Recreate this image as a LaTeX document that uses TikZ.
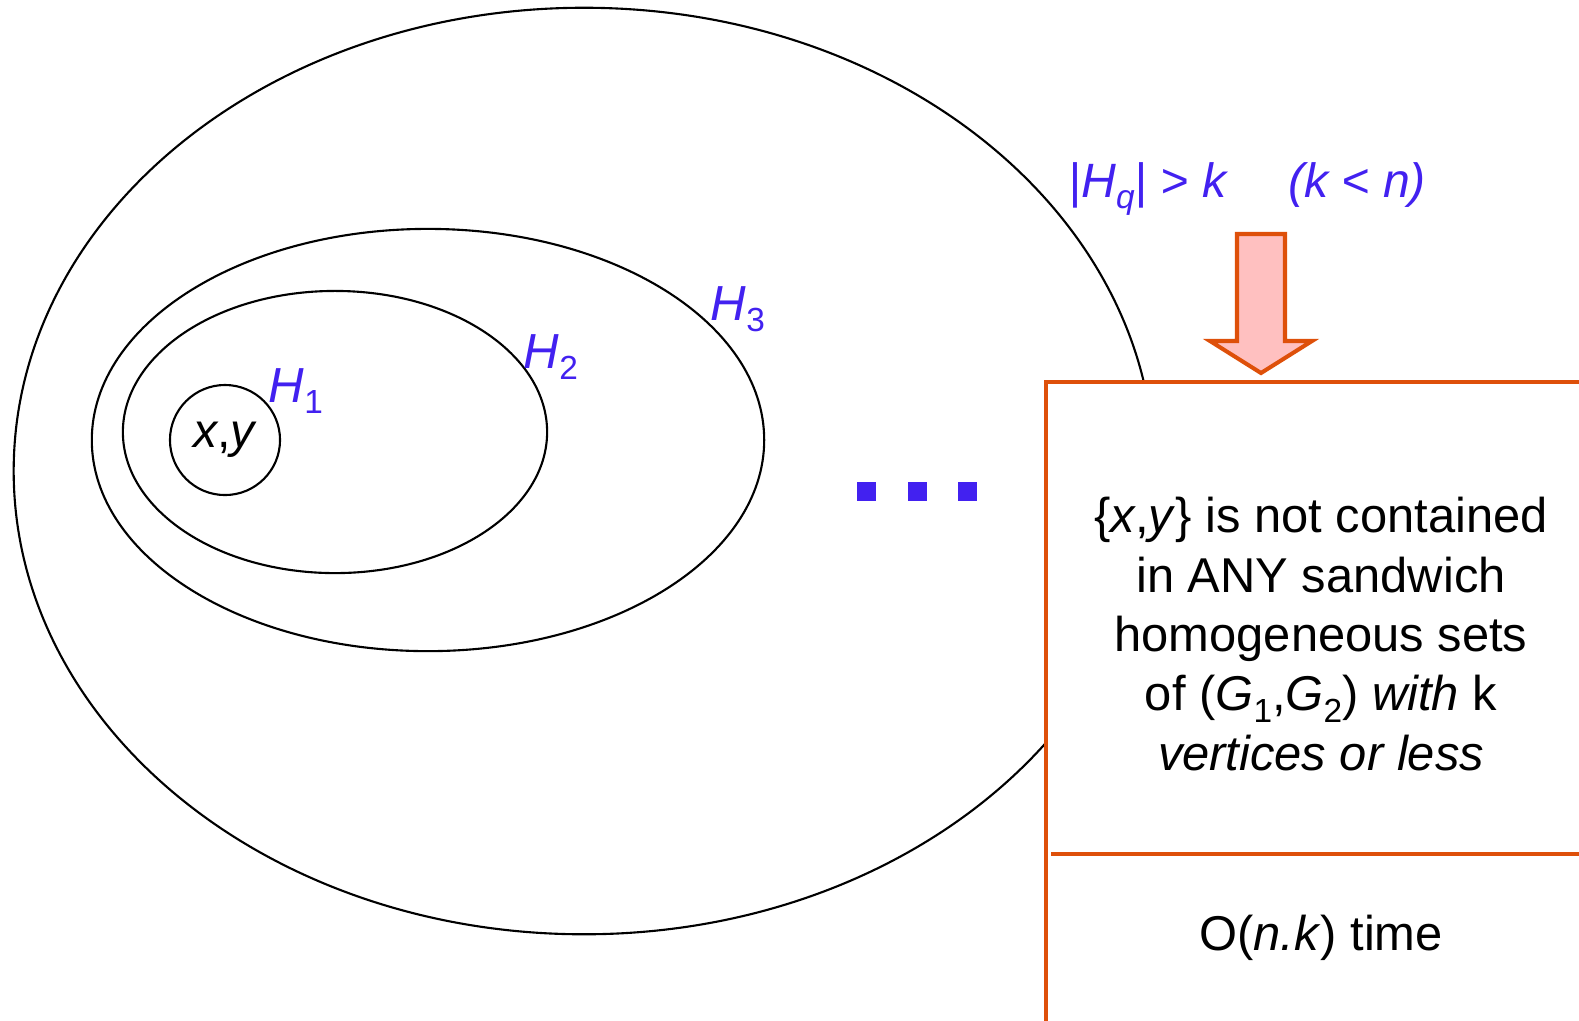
\documentclass[tikz,border=0pt]{standalone}
\usepackage{fontspec}
\setmainfont{Liberation Sans}
\usetikzlibrary{positioning, shapes.geometric}
\definecolor{setblue}{RGB}{66,33,240}
\definecolor{boxorange}{RGB}{222,80,10}
\definecolor{arrowpink}{RGB}{255,192,192}
\newcommand{\lowsub}[1]{\raisebox{-0.45ex}{\fontsize{9.5}{10}\selectfont\upshape #1}}

\begin{document}
\begin{tikzpicture}[
    x=0.01cm, y=-0.01cm, % pixel-like units, y downwards
    set/.style={draw, ellipse, line width=0.6pt, inner sep=0pt},
    setlabel/.style={text=setblue, font=\fontsize{14}{16}\selectfont\itshape, inner sep=0pt, anchor=base west},
    boxtext/.style={font=\fontsize{13.9}{16.85}\selectfont, align=center, inner sep=0pt},
    frame/.style={draw=boxorange, line width=1.15pt},
    dot/.style={fill=setblue, rectangle, minimum size=0.19cm, inner sep=0pt}
]
\useasboundingbox (0,0) rectangle (1579,1020);
\clip (0,0) rectangle (1579,1020);

% nested sets
\node[set, minimum width=11.40cm, minimum height=9.26cm] (hq) at (584,471) {};
\node[set, minimum width=6.72cm, minimum height=4.22cm] (h3) at (428,440) {};
\node[set, minimum width=4.24cm, minimum height=2.82cm] (h2) at (335,432) {};
\node[set, circle, minimum size=1.10cm] (h1) at (225,440) {\fontsize{13.7}{16}\selectfont\textit{x},\textit{y}};

% set labels
\node[setlabel] (lab1) at (268,402) {H\lowsub{1}};
\node[setlabel] (lab2) at (523,368) {H\lowsub{2}};
\node[setlabel] (lab3) at (710,320) {H\lowsub{3}};
\node[setlabel, font=\fontsize{13.7}{16}\selectfont\itshape] (labq) at (1068,197)
    {|H\raisebox{-0.45ex}{\fontsize{9.5}{10}\selectfont q}| > k\hspace{0.62cm}(k < n)};

% dots
\foreach \x in {866,917,967}
    \node[dot] (dot\x) at (\x,491) {};

% block arrow
\draw[frame, fill=arrowpink, line join=miter] (1237,234) -- (1285,234) -- (1285,341) -- (1312,341)
    -- (1261,373) -- (1210,341) -- (1237,341) -- cycle;

% result box
\draw[frame, fill=white] (1046,382) rectangle (1640,1080);
\draw[frame] (1051,854) -- (1640,854);

\node[boxtext] (claim) at (1321,634) {
    \{\textit{x},\textit{y}\} is not contained\\
    in ANY sandwich\\
    homogeneous sets\\
    of (\textit{G}\lowsub{1},\textit{G}\lowsub{2}) \textit{with} k\\
    \textit{vertices or less}
};
\node[boxtext, anchor=base] (cost) at (1321,950) {O(\textit{n.k}) time};
\end{tikzpicture}
\end{document}
